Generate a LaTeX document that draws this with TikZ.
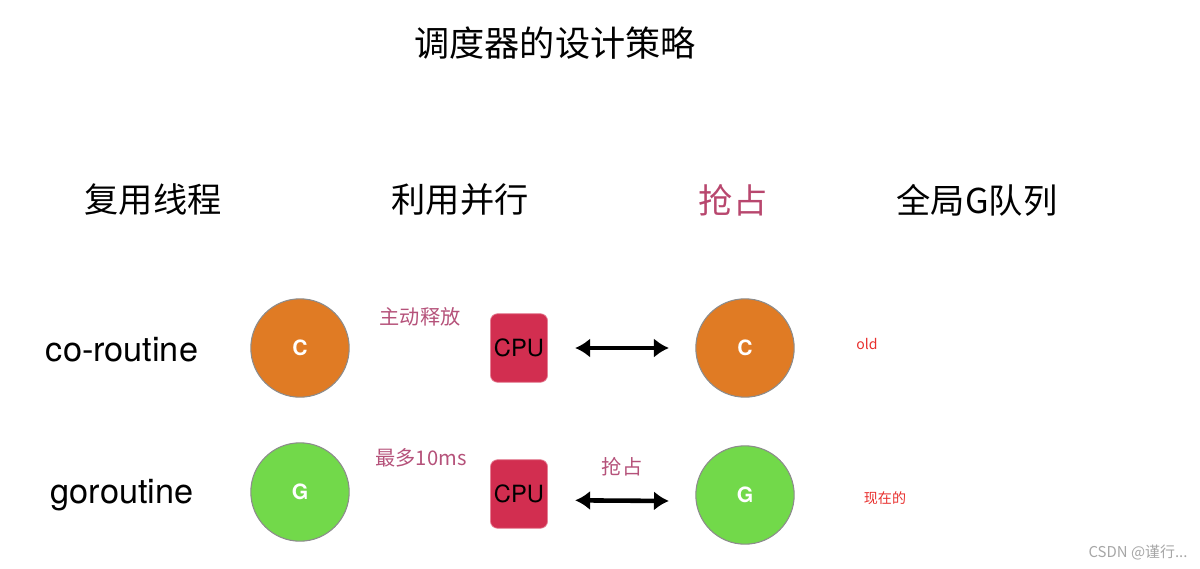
\documentclass[tikz,border=0pt]{standalone}
\usepackage{fontspec}
\setmainfont{TeX Gyre Heros}
\newfontfamily\cjk{Noto Sans CJK SC}
\usepackage{xcolor}
\usetikzlibrary{arrows.meta, positioning}

\definecolor{gorange}{HTML}{E07B24}
\definecolor{ggreen}{HTML}{72D94A}
\definecolor{cpured}{HTML}{D22E50}
\definecolor{notepink}{HTML}{B5527A}
\definecolor{headred}{HTML}{B8476E}
\definecolor{remark}{HTML}{E8302E}

\begin{document}
\begin{tikzpicture}[x=0.02cm, y=-0.02cm,
  title/.style={font=\cjk\fontsize{20pt}{24pt}\selectfont},
  heading/.style={font=\cjk\fontsize{19.5pt}{23pt}\selectfont},
  rowname/.style={font=\fontsize{19.5pt}{23pt}\selectfont},
  gball/.style={circle, draw=gray!90, line width=0.6pt, minimum size=56pt,
    inner sep=0pt, text=white, font=\bfseries\fontsize{12pt}{14pt}\selectfont},
  cpu/.style={rectangle, draw=cpured!60, fill=cpured, rounded corners=4pt,
    minimum width=32.5pt, minimum height=39pt, inner sep=0pt,
    font=\fontsize{13.5pt}{15pt}\selectfont},
  note/.style={text=notepink, font=\cjk\fontsize{11.5pt}{14pt}\selectfont},
  remarktext/.style={text=remark, font=\cjk\fontsize{8pt}{10pt}\selectfont},
  arrow/.style={{Latex[length=8.5pt,width=11pt]}-{Latex[length=8.5pt,width=11pt]},
    line width=2.6pt, shorten <=15.5pt, shorten >=15pt},
]
\useasboundingbox (0,0) rectangle (1200,568);

\node[title] (title) at (555,43) {调度器的设计策略};

\node[heading] (reuse) at (153,200) {复用线程};
\node[heading] (parallel) at (460,200) {利用并行};
\node[heading, text=headred] (preempt) at (733,200) {抢占};
\node[heading] (globalq) at (977,200) {全局G队列};

\node[rowname] (coname) at (122,350) {co-routine};
\node[rowname] (goname) at (122,495) {goroutine};

% co-routine row
\node[gball, fill=gorange] (cleft) at (300,348) {C};
\node[note] (yield) at (420,317) {主动释放};
\node[cpu] (cpuc) at (519,348) {CPU};
\node[gball, fill=gorange] (cright) at (745,348) {C};
\node[remarktext] (old) at (867,344) {old};

% goroutine row
\node[gball, fill=ggreen] (gleft) at (300,492) {G};
\node[note] (limit) at (421,458) {最多10ms};
\node[cpu] (cpug) at (519,494) {CPU};
\node[note] (grab) at (622,467) {抢占};
\node[gball, fill=ggreen] (gright) at (745,495) {G};
\node[remarktext] (now) at (885,498) {现在的};

\draw[arrow] (cpuc) -- (cright);
\draw[arrow] ([yshift=-3.5pt]cpug.east) -- ([yshift=-3.5pt]gright.west);

\node[text=gray!70, font=\cjk\fontsize{8.5pt}{10pt}\selectfont] (mark) at (1138,553) {CSDN @谨行...};

\end{tikzpicture}
\end{document}
